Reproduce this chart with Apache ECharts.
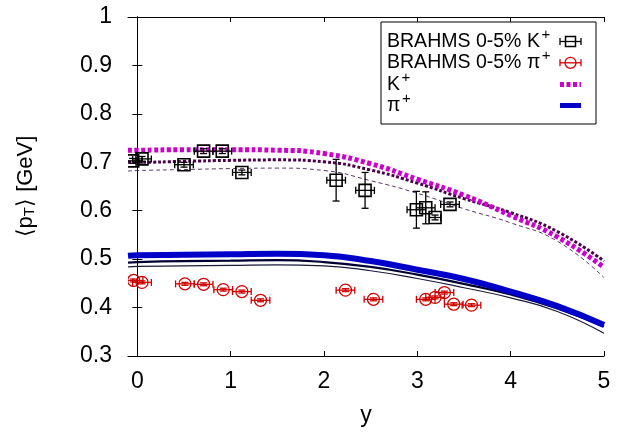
<!DOCTYPE html>
<html>
<head>
<meta charset="utf-8">
<script src="https://cdn.jsdelivr.net/npm/echarts@6/dist/echarts.min.js"></script>
<style>html,body{margin:0;padding:0;background:#fff;}#c{width:629px;height:432px;}</style>
</head>
<body>
<div id="c"></div>
<script>
// ---- data ----
const xTicks = [0, 1, 2, 3, 4, 5];
const yTicks = [0.3, 0.4, 0.5, 0.6, 0.7, 0.8, 0.9, 1];

// BRAHMS 0-5% K+
const kX    = [-0.05, 0.05, 0.50, 0.71, 0.91, 1.12, 2.13, 2.44, 2.99, 3.09, 3.19, 3.35];
const kY    = [0.703, 0.707, 0.695, 0.723, 0.723, 0.679, 0.663, 0.642, 0.602, 0.606, 0.586, 0.613];
const kXErr = [0.10, 0.10, 0.10, 0.10, 0.10, 0.10, 0.10, 0.10, 0.10, 0.10, 0.06, 0.10];
const kYErr = [0.005, 0.005, 0.005, 0.005, 0.005, 0.005, 0.043, 0.037, 0.038, 0.033, 0.005, 0.005];

// BRAHMS 0-5% pi+
const piX    = [-0.04, 0.05, 0.51, 0.71, 0.92, 1.12, 1.32, 2.23, 2.53, 3.09, 3.19, 3.29, 3.39, 3.58];
const piY    = [0.456, 0.452, 0.449, 0.448, 0.437, 0.433, 0.415, 0.436, 0.417, 0.417, 0.421, 0.431, 0.407, 0.405];
const piXErr = [0.10, 0.10, 0.10, 0.10, 0.10, 0.10, 0.10, 0.10, 0.10, 0.10, 0.10, 0.10, 0.10, 0.10];
const piYErr = [0.003, 0.003, 0.003, 0.003, 0.003, 0.003, 0.003, 0.003, 0.003, 0.003, 0.003, 0.003, 0.003, 0.003];

// model curves
const curveX  = [-0.1, 0, 0.5, 1, 1.5, 2, 2.5, 3, 3.5, 4, 4.5, 5];
const kMain   = [0.725, 0.725, 0.726, 0.726, 0.725, 0.718, 0.697, 0.665, 0.632, 0.590, 0.546, 0.483];
const kDark   = [0.700, 0.700, 0.702, 0.704, 0.705, 0.701, 0.684, 0.657, 0.625, 0.596, 0.557, 0.496];
const kThin   = [0.682, 0.683, 0.685, 0.687, 0.688, 0.683, 0.662, 0.636, 0.604, 0.575, 0.537, 0.462];
const piMain  = [0.507, 0.508, 0.509, 0.510, 0.511, 0.508, 0.496, 0.478, 0.459, 0.433, 0.403, 0.364];
const piDark  = [0.493, 0.494, 0.496, 0.497, 0.498, 0.494, 0.484, 0.468, 0.449, 0.427, 0.398, 0.361];
const piThin  = [0.484, 0.485, 0.486, 0.487, 0.488, 0.486, 0.476, 0.460, 0.441, 0.420, 0.392, 0.347];

// legend labels
const legendLabels = ['BRAHMS 0-5% K', 'BRAHMS 0-5% π', 'K', 'π'];

// ---- build ----
const FONT = 'Liberation Sans, Arial, Helvetica, sans-serif';
const pairs = (xs, ys) => xs.map((x, i) => [x, ys[i]]);
const quads = (xs, ys, ex, ey) => xs.map((x, i) => [x, ys[i], ex[i], ey[i]]);

const mctx = document.createElement('canvas').getContext('2d');
function textW(t, size) { mctx.font = size + 'px ' + FONT; return mctx.measureText(t).width; }

function errRender(kind, color) {
  return function (params, api) {
    const x = api.value(0), y = api.value(1), dx = api.value(2), dy = api.value(3);
    const c = api.coord([x, y]);
    const l = api.coord([x - dx, y]), r = api.coord([x + dx, y]);
    const t = api.coord([x, y + dy]), b = api.coord([x, y - dy]);
    const cap = 3.5;
    const st = { stroke: color, lineWidth: 1.3, fill: 'none' };
    const ch = [
      { type: 'line', shape: { x1: l[0], y1: c[1], x2: r[0], y2: c[1] }, style: st },
      { type: 'line', shape: { x1: l[0], y1: c[1] - cap, x2: l[0], y2: c[1] + cap }, style: st },
      { type: 'line', shape: { x1: r[0], y1: c[1] - cap, x2: r[0], y2: c[1] + cap }, style: st },
      { type: 'line', shape: { x1: c[0], y1: t[1], x2: c[0], y2: b[1] }, style: st },
      { type: 'line', shape: { x1: c[0] - cap, y1: t[1], x2: c[0] + cap, y2: t[1] }, style: st },
      { type: 'line', shape: { x1: c[0] - cap, y1: b[1], x2: c[0] + cap, y2: b[1] }, style: st }
    ];
    if (kind === 'square') {
      ch.push({ type: 'rect', shape: { x: c[0] - 6, y: c[1] - 6, width: 12, height: 12 },
                style: { stroke: color, lineWidth: 1.6, fill: 'none' } });
    } else {
      ch.push({ type: 'circle', shape: { cx: c[0], cy: c[1], r: 6 },
                style: { stroke: color, lineWidth: 1.3, fill: 'none' } });
    }
    return { type: 'group', children: ch };
  };
}

function curve(name, ys, color, width, dash, z) {
  return {
    type: 'line', name: name, data: pairs(curveX, ys), showSymbol: false, symbol: 'none',
    smooth: 0.5, clip: true, z: z,
    lineStyle: { color: color, width: width, type: dash, cap: 'butt' }
  };
}

const axisLineStyle = { show: true, lineStyle: { color: '#000', width: 1 } };

// legend graphics
const LF = Math.min(21, 20 * 153 / textW(legendLabels[0], 20));
const SF = 15, LX = 387;
const rowY = [41.5, 62.8, 84.5, 105.5];
const graphics = [
  { type: 'rect', shape: { x: 381, y: 22, width: 215, height: 102 },
    style: { stroke: '#000', lineWidth: 1, fill: '#fff' }, z: 10 }
];
legendLabels.forEach((lab, i) => {
  graphics.push({ type: 'text', x: LX, y: rowY[i], z: 11,
    style: { text: lab, fontSize: LF, fontFamily: FONT, fill: '#000', verticalAlign: 'middle', align: 'left' } });
  graphics.push({ type: 'text', x: LX + textW(lab, LF) + 1.5, y: rowY[i] - 6.5, z: 11,
    style: { text: '+', fontSize: SF, fontFamily: FONT, fill: '#000', verticalAlign: 'middle', align: 'left' } });
});
const gl = (x1, y1, x2, y2, stroke, w, dash) =>
  ({ type: 'line', z: 12, shape: { x1, y1, x2, y2 }, style: { stroke, lineWidth: w, lineDash: dash || null } });
graphics.push(
  gl(560, rowY[0], 581, rowY[0], '#000', 1.3),
  gl(560, rowY[0] - 3.5, 560, rowY[0] + 3.5, '#000', 1.3),
  gl(581, rowY[0] - 3.5, 581, rowY[0] + 3.5, '#000', 1.3),
  { type: 'rect', z: 12, shape: { x: 565.5, y: rowY[0] - 5, width: 10, height: 10 },
    style: { stroke: '#000', lineWidth: 1.5, fill: 'none' } },
  gl(560, rowY[1], 581, rowY[1], '#d00000', 1.3),
  gl(560, rowY[1] - 3.5, 560, rowY[1] + 3.5, '#d00000', 1.3),
  gl(581, rowY[1] - 3.5, 581, rowY[1] + 3.5, '#d00000', 1.3),
  { type: 'circle', z: 12, shape: { cx: 570.5, cy: rowY[1], r: 5.5 },
    style: { stroke: '#d00000', lineWidth: 1.3, fill: 'none' } },
  gl(560, rowY[2], 581, rowY[2], '#cc00cc', 5, [4, 2.5]),
  gl(560, rowY[3], 581, rowY[3], '#0000c8', 5)
);

const option = {
  backgroundColor: '#fff',
  animation: false,
  grid: { left: 128, right: 25, top: 17, bottom: 76 },
  xAxis: [
    {
      type: 'value', min: -0.1, max: 5, position: 'bottom',
      axisLine: axisLineStyle,
      axisTick: { show: true, inside: true, length: 5, customValues: xTicks, lineStyle: { color: '#000' } },
      axisLabel: { customValues: xTicks, fontSize: 23, fontFamily: FONT, color: '#000', margin: 14 },
      splitLine: { show: false },
      name: 'y', nameLocation: 'middle', nameGap: 48,
      nameTextStyle: { fontSize: 23, fontFamily: FONT, color: '#000' }
    },
    {
      type: 'value', min: -0.1, max: 5, position: 'top',
      axisLine: axisLineStyle,
      axisTick: { show: true, inside: true, length: 5, customValues: xTicks, lineStyle: { color: '#000' } },
      axisLabel: { show: false },
      splitLine: { show: false }
    }
  ],
  yAxis: [
    {
      type: 'value', min: 0.3, max: 1, interval: 0.1, position: 'left',
      axisLine: axisLineStyle,
      axisTick: { show: true, inside: true, length: 5, lineStyle: { color: '#000' } },
      axisLabel: { fontSize: 23, fontFamily: FONT, color: '#000', margin: 16,
                   formatter: v => String(Math.round(v * 10) / 10) },
      splitLine: { show: false },
      name: '⟨p{sub|T}⟩ [GeV]', nameLocation: 'middle', nameGap: 91, nameRotate: 90,
      nameTextStyle: { fontSize: 22, fontFamily: FONT, color: '#000',
        rich: { sub: { fontSize: 15, fontFamily: FONT, color: '#000', verticalAlign: 'bottom', padding: [6, 0, 0, 0] } } }
    },
    {
      type: 'value', min: 0.3, max: 1, interval: 0.1, position: 'right',
      axisLine: axisLineStyle,
      axisTick: { show: true, inside: true, length: 5, lineStyle: { color: '#000' } },
      axisLabel: { show: false },
      splitLine: { show: false }
    }
  ],
  series: [
    curve('K+ thin', kThin, '#5a3a6a', 1, [4, 3], 2),
    curve('K+ dark', kDark, '#4a004a', 3, [3, 2], 3),
    curve('K+', kMain, '#cc00cc', 5, [4, 2.5], 4),
    curve('pi+ thin', piThin, '#1a1a3a', 1.2, 'solid', 2),
    curve('pi+ dark', piDark, '#000033', 2.2, 'solid', 3),
    curve('pi+', piMain, '#0000c8', 6, 'solid', 4),
    {
      type: 'custom', name: 'BRAHMS 0-5% K+', data: quads(kX, kY, kXErr, kYErr),
      renderItem: errRender('square', '#000'), clip: true, z: 6,
      encode: { x: 0, y: 1 }
    },
    {
      type: 'custom', name: 'BRAHMS 0-5% pi+', data: quads(piX, piY, piXErr, piYErr),
      renderItem: errRender('circle', '#d00000'), clip: true, z: 6,
      encode: { x: 0, y: 1 }
    }
  ],
  graphic: graphics
};

const chart = echarts.init(document.getElementById('c'), null, { renderer: 'canvas' });
chart.setOption(option);
</script>
</body>
</html>
